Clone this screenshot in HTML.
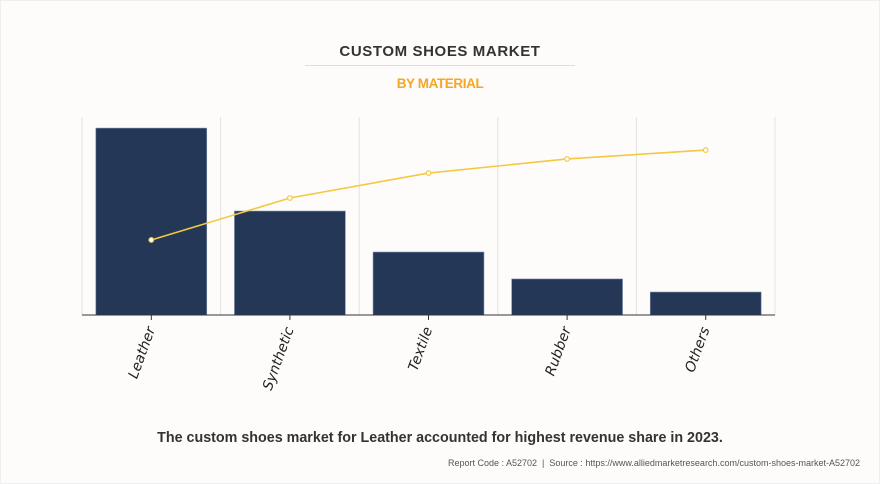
<!DOCTYPE html>
<html><head><meta charset="utf-8"><style>
body{margin:0;background:#fff;}
#wrap{width:880px;height:484px;position:relative;background:#fdfcfb;font-family:"Liberation Sans",sans-serif;outline:1px solid #eee;outline-offset:-1px;}
.t{position:absolute;left:0;width:880px;text-align:center;}
</style></head><body>
<div id="wrap">
<div class="t" style="top:43px;font-size:15px;font-weight:bold;color:#333;letter-spacing:0.6px">CUSTOM SHOES MARKET</div>
<div style="position:absolute;left:305px;top:65px;width:270px;height:1px;background:#ddd"></div>
<div class="t" style="top:76px;font-size:13.5px;font-weight:bold;color:#f5a623;letter-spacing:-0.4px">BY MATERIAL</div>
<svg id="chart" width="880" height="484" style="position:absolute;left:0;top:0"></svg>
<div class="t" style="top:430px;font-size:14.3px;font-weight:bold;color:#333">The custom shoes market for Leather accounted for highest revenue share in 2023.</div>
<div style="position:absolute;right:20px;top:458px;font-size:9px;color:#555">Report Code : A52702 &nbsp;|&nbsp; Source : https://www.alliedmarketresearch.com/custom-shoes-market-A52702</div>
</div>
<script>
const categories=["Leather","Synthetic","Textile","Rubber","Others"];
const barValues=[94.4,52.5,31.8,18.2,11.6];
const lineValues=[37.9,59.1,71.7,78.8,83.3];
const NS="http://www.w3.org/2000/svg";
const svg=document.getElementById('chart');
const L=82,R=775,T=117,B=315;
const band=(R-L)/categories.length;
const x=i=>L+band*(i+0.5);
const y=v=>B-(v/100)*(B-T);
function mk(t,a){const e=document.createElementNS(NS,t);for(const k in a)e.setAttribute(k,a[k]);svg.appendChild(e);return e;}
for(let i=0;i<=categories.length;i++){
 const g=mk('line',{x1:L+band*i,x2:L+band*i,y1:T,y2:B,stroke:'#e3e3e3','stroke-width':1});
 
 
}
categories.forEach((c,i)=>{
 const bw=band*0.8;
 const r=mk('rect',{x:x(i)-bw/2,y:y(barValues[i]),width:bw,height:B-y(barValues[i]),fill:'#243757',stroke:'#7a8aa8','stroke-width':0.6});
 
 
 const tk=mk('line',{x1:x(i),x2:x(i),y1:B,y2:B+5,stroke:'#333'});
 
 
 const tx=mk('text',{x:0,y:0,transform:`translate(${x(i)+4},${B+14}) rotate(-70)`,'text-anchor':'end','font-size':14,'font-style':'italic',fill:'#222','font-family':'"DejaVu Sans","Liberation Sans",sans-serif'});
 tx.textContent=c;
 
 
});
const ax=mk('line',{x1:L,x2:R,y1:B,y2:B,stroke:'#333','stroke-width':1});


const pl=mk('polyline',{points:lineValues.map((v,i)=>x(i)+','+y(v)).join(' '),fill:'none',stroke:'#f5c842','stroke-width':1.6});


lineValues.forEach((v,i)=>{
 const p=mk('circle',{cx:x(i),cy:y(v),r:2.3,fill:'#fff',stroke:'#f5c842','stroke-width':1.2});
 
 
});
</script>
</body></html>
